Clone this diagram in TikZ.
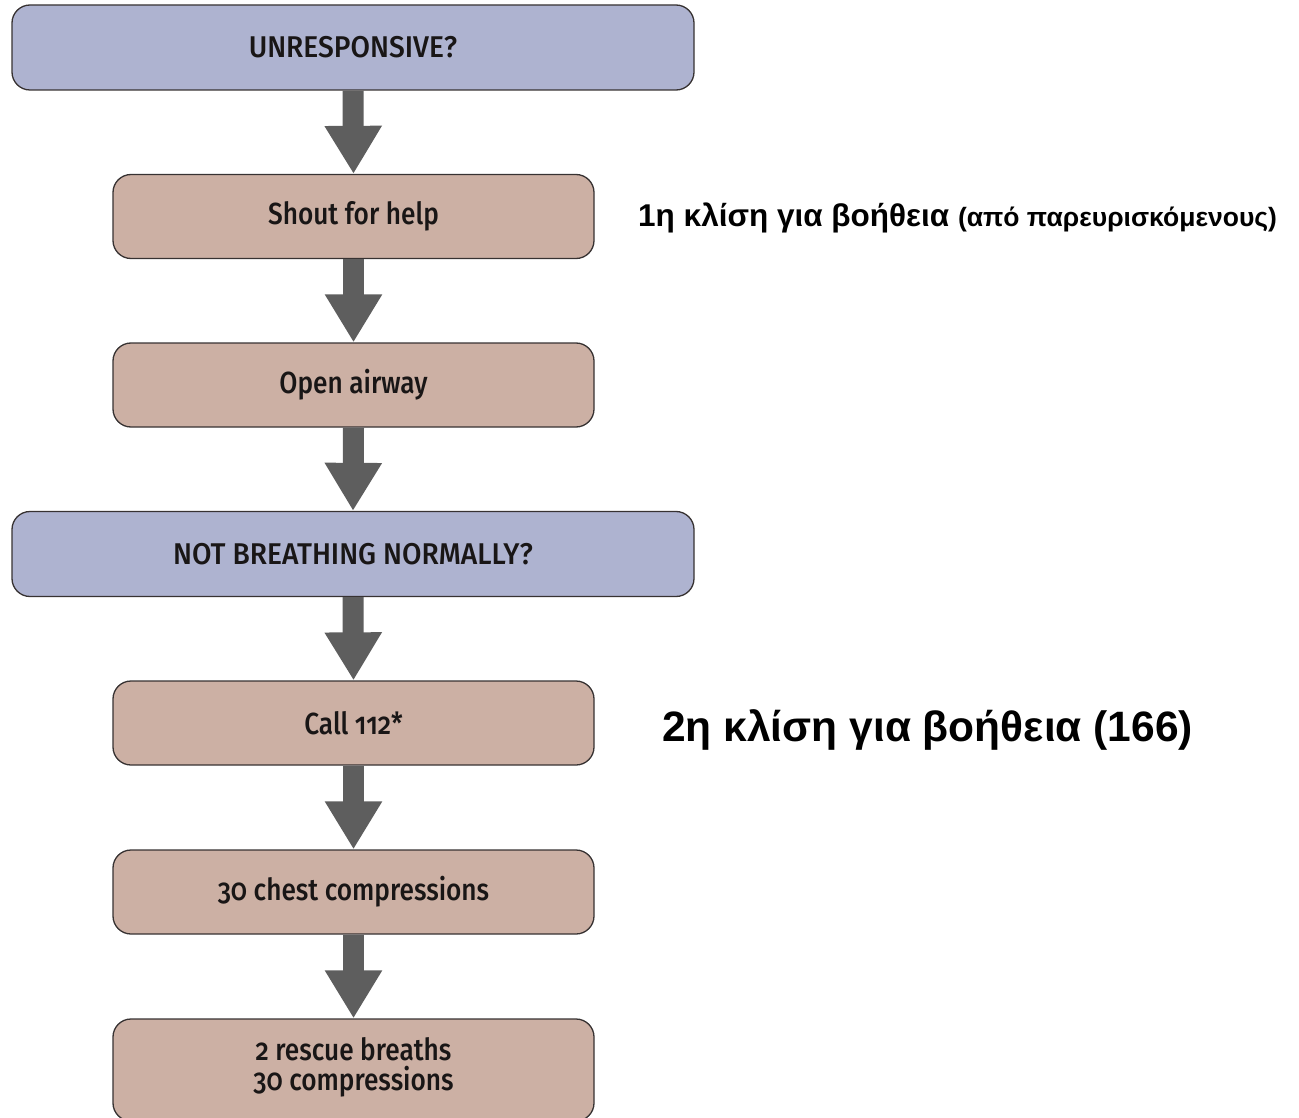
\documentclass[tikz,border=0pt]{standalone}
\usepackage{fontspec}
\usetikzlibrary{arrows.meta}
\newfontfamily\boxfont{Fira Sans Medium}[Numbers=OldStyle, FakeStretch=0.86]
\newfontfamily\capsfont{Fira Sans Medium}[FakeStretch=0.94]
\newfontfamily\grkfont{Liberation Sans}
\definecolor{qblue}{RGB}{174,179,208}
\definecolor{stepfill}{RGB}{204,176,164}
\definecolor{edgegray}{RGB}{55,50,50}
\definecolor{arrowgray}{RGB}{94,94,94}
\definecolor{inktext}{RGB}{25,22,22}
\begin{document}
\begin{tikzpicture}[x=1pt,y=-1pt,
  question/.style={draw=edgegray, line width=1.3pt, fill=qblue, rounded corners=18pt,
    minimum width=682pt, minimum height=85pt, inner sep=0pt,
    font=\capsfont\fontsize{30}{34}\selectfont, text=inktext},
  action/.style={draw=edgegray, line width=1.3pt, fill=stepfill, rounded corners=18pt,
    minimum width=481pt, minimum height=84pt, inner sep=0pt, align=center,
    font=\boxfont\fontsize{30.5}{30}\selectfont, text=inktext},
  flow/.style={draw=arrowgray, line width=21pt,
    -{Triangle[width=54pt,length=48pt]}, shorten >=0pt},
  note/.style={anchor=west, inner sep=0pt, font=\grkfont\bfseries}]
  \useasboundingbox (0,0) rectangle (1299,1118);
  \begin{scope}
  \clip (0,0) rectangle (1299,1118);

  % steps of the sequence
  \node[question] (unresp) at (353,47.5) {UNRESPONSIVE?};
  \node[action] (shout) at (353.5,216.5) {Shout for help};
  \node[action] (airway) at (353.5,385) {Open airway};
  \node[question] (breath) at (353,554) {NOT BREATHING NORMALLY?};
  \node[action] (call) at (353.5,723) {Call 112*};
  \node[action] (chest) at (353.5,892) {30 chest compressions};
  \node[action, minimum height=102pt] (rescue) at (353.5,1070) {};
  \node[font=\boxfont\fontsize{30.5}{30}\selectfont, text=inktext, align=center] (rescuetxt)
    at (353.5,1067) {2 rescue breaths\\30 compressions};

  % connectors
  \draw[flow] (unresp.south) -- (shout.north);
  \draw[flow] (shout.south) -- (airway.north);
  \draw[flow] (airway.south) -- (breath.north);
  \draw[flow] (breath.south) -- (call.north);
  \draw[flow] (call.south) -- (chest.north);
  \draw[flow] (chest.south) -- (rescue.north);
  \end{scope}

  % side notes
  \node[note] (first) at (638,218) {\fontsize{31.5}{36}\selectfont 1η κλίση για βοήθεια
    {\fontsize{26.5}{30}\selectfont (από παρευρισκόμενους)}};
  \node[note] (second) at (662,730) {\fontsize{42.5}{48}\selectfont 2η κλίση για βοήθεια (166)};
\end{tikzpicture}
\end{document}
